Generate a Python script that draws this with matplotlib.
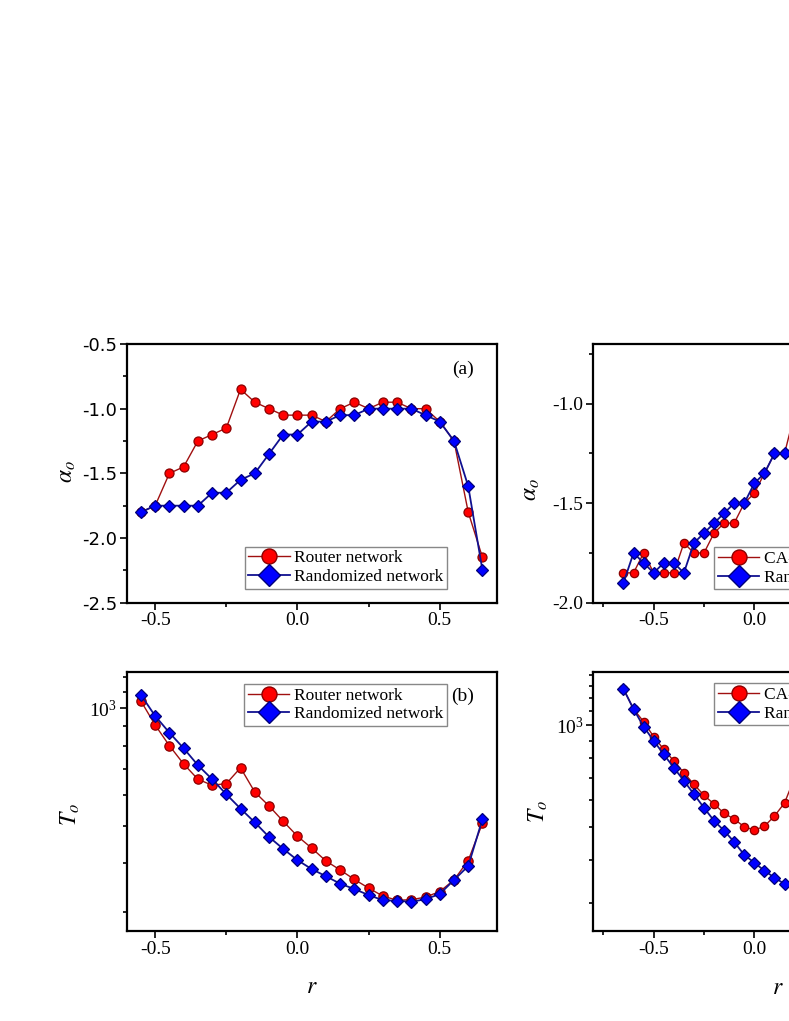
import numpy as np
import matplotlib
matplotlib.use("Agg")
import matplotlib.pyplot as plt
from matplotlib.lines import Line2D
from matplotlib.ticker import MultipleLocator, LogLocator, NullFormatter

plt.rcParams['font.family'] = ['Liberation Serif', 'DejaVu Serif']
plt.rcParams['mathtext.fontset'] = 'stix'

# ---------------- data ----------------
r_router = [-0.55, -0.50, -0.45, -0.40, -0.35, -0.30, -0.25, -0.20, -0.15, -0.10, -0.05, 0.00,
            0.05, 0.10, 0.15, 0.20, 0.25, 0.30, 0.35, 0.40, 0.45, 0.50, 0.55, 0.60, 0.65]
alpha_router = [-1.80, -1.75, -1.50, -1.45, -1.25, -1.20, -1.15, -0.85, -0.95, -1.00, -1.05, -1.05,
                -1.05, -1.10, -1.00, -0.95, -1.00, -0.95, -0.95, -1.00, -1.00, -1.10, -1.25, -1.80, -2.15]
alpha_router_rand = [-1.80, -1.75, -1.75, -1.75, -1.75, -1.65, -1.65, -1.55, -1.50, -1.35, -1.20, -1.20,
                     -1.10, -1.10, -1.05, -1.05, -1.00, -1.00, -1.00, -1.00, -1.05, -1.10, -1.25, -1.60, -2.25]
T_router = [1044, 906, 802, 720, 658, 635, 641, 704, 610, 562, 513, 470,
            438, 406, 385, 364, 346, 330, 322, 323, 328, 339, 363, 407, 508]
T_router_rand = [1082, 956, 866, 790, 715, 658, 602, 553, 510, 468, 436, 408,
                 387, 371, 355, 344, 332, 322, 321, 319, 324, 334, 363, 394, 520]

r_ca = [-0.65, -0.60, -0.55, -0.50, -0.45, -0.40, -0.35, -0.30, -0.25, -0.20, -0.15, -0.10,
        -0.05, 0.00, 0.05, 0.10, 0.15, 0.20]
alpha_ca = [-1.85, -1.85, -1.75, -1.85, -1.85, -1.85, -1.70, -1.75, -1.75, -1.65, -1.60, -1.60,
            -1.50, -1.45, -1.35, -1.25, -1.25, -1.05]
r_ca_rand = [-0.65, -0.60, -0.55, -0.50, -0.45, -0.40, -0.35, -0.30, -0.25, -0.20, -0.15, -0.10,
             -0.05, 0.00, 0.05, 0.10, 0.15]
alpha_ca_rand = [-1.90, -1.75, -1.80, -1.85, -1.80, -1.80, -1.85, -1.70, -1.65, -1.60, -1.55, -1.50,
                 -1.50, -1.40, -1.35, -1.25, -1.25]
T_ca = [1276, 1114, 1023, 924, 848, 784, 724, 669, 621, 586, 550, 529,
        502, 491, 504, 540, 590, 700]
T_ca_rand = [1276, 1114, 989, 899, 820, 749, 686, 626, 571, 523, 489, 453,
             415, 394, 373, 356, 341]

labels_router = ["Router network", "Randomized network"]
labels_ca = ["CA-GrQc network", "Randomized network"]

# ---------------- style ----------------
RED_FILL, RED_EDGE, RED_LINE = '#FF0000', '#8B0000', '#A01010'
BLU_FILL, BLU_EDGE, BLU_LINE = '#0000FF', '#00007A', '#101090'

W, H = 789, 1021
fig = plt.figure(figsize=(W / 100, H / 100), dpi=100)


def rect(x0, ytop, w, h):
    return [x0 / W, (H - ytop - h) / H, w / W, h / H]


ax_a = fig.add_axes(rect(126.7, 344, 370, 258.7))
ax_b = fig.add_axes(rect(126.7, 672.3, 370, 258.7))
ax_c = fig.add_axes(rect(593.3, 344, 370.4, 258.7))
ax_d = fig.add_axes(rect(593.3, 672.3, 370.4, 258.7))


def style(ax):
    for s in ax.spines.values():
        s.set_linewidth(1.6)
    ax.tick_params(which='both', direction='out', top=False, right=False, width=1.2,
                   labelsize=14, pad=2)
    ax.tick_params(which='major', length=5)
    ax.tick_params(which='minor', length=3)


def draw(ax, x1, y1, x2, y2, ms_o, ms_d):
    ax.plot(x1, y1, '-', color=RED_LINE, lw=1.0, marker='o', ms=ms_o,
            mfc=RED_FILL, mec=RED_EDGE, mew=0.9, zorder=3)
    ax.plot(x2, y2, '-', color=BLU_LINE, lw=1.3, marker='D', ms=ms_d,
            mfc=BLU_FILL, mec=BLU_EDGE, mew=0.9, zorder=4)


def legend(ax, labels, anchor):
    h = [Line2D([], [], color=RED_LINE, lw=1.0, marker='o', ms=10.8, mfc=RED_FILL,
                mec=RED_EDGE, mew=1.0),
         Line2D([], [], color=BLU_LINE, lw=1.3, marker='D', ms=11.0, mfc=BLU_FILL,
                mec=BLU_EDGE, mew=1.0)]
    lg = ax.legend(h, labels, loc='upper left', bbox_to_anchor=anchor, borderaxespad=0,
                   fontsize=12.5, frameon=True, fancybox=False, edgecolor='#888888',
                   framealpha=1, handlelength=2.4, handletextpad=0.25, borderpad=0.2,
                   labelspacing=0.15)
    lg.get_frame().set_linewidth(1.0)
    lg.set_zorder(10)


# (a)
draw(ax_a, r_router, alpha_router, r_router, alpha_router_rand, 6.5, 6.5)
ax_a.set_xlim(-0.6, 0.7)
ax_a.set_ylim(-2.5, -0.5)
ax_a.xaxis.set_major_locator(MultipleLocator(0.5))
ax_a.xaxis.set_minor_locator(MultipleLocator(0.25))
ax_a.yaxis.set_major_locator(MultipleLocator(0.5))
ax_a.yaxis.set_minor_locator(MultipleLocator(0.25))
style(ax_a)
ax_a.yaxis.set_major_formatter(plt.FuncFormatter(lambda v, p: f"{v:.1f}"))
for t in ax_a.get_yticklabels():
    t.set_fontfamily('DejaVu Sans')
    t.set_fontsize(13)
legend(ax_a, labels_router, (0.3197, 0.2165))
ax_a.text(463.3 / W, 1 - 369.3 / H, "(a)", transform=fig.transFigure, fontsize=14,
          ha='center', va='center')

# (b)
draw(ax_b, r_router, T_router, r_router, T_router_rand, 6.7, 6.5)
ax_b.set_yscale('log')
ax_b.set_xlim(-0.6, 0.7)
ax_b.set_ylim(268.5, 1237)
ax_b.xaxis.set_major_locator(MultipleLocator(0.5))
ax_b.xaxis.set_minor_locator(MultipleLocator(0.25))
ax_b.yaxis.set_major_locator(LogLocator(base=10, numticks=10))
ax_b.yaxis.set_minor_locator(MultipleLocator(100))
ax_b.yaxis.set_minor_formatter(NullFormatter())
style(ax_b)
legend(ax_b, labels_router, (0.318, 0.9548))
ax_b.text(463 / W, 1 - 696.7 / H, "(b)", transform=fig.transFigure, fontsize=14,
          ha='center', va='center')

# (c)
draw(ax_c, r_ca, alpha_ca, r_ca_rand, alpha_ca_rand, 6.0, 6.2)
ax_c.set_xlim(-0.8, 1.04)
ax_c.set_ylim(-2.0, -0.7)
ax_c.xaxis.set_major_locator(MultipleLocator(0.5))
ax_c.xaxis.set_minor_locator(MultipleLocator(0.25))
ax_c.yaxis.set_major_locator(MultipleLocator(0.5))
ax_c.yaxis.set_minor_locator(MultipleLocator(0.25))
ax_c.yaxis.set_major_formatter(plt.FuncFormatter(lambda v, p: f"{v:.1f}"))
style(ax_c)
legend(ax_c, labels_ca, (0.3267, 0.2141))

# (d)
draw(ax_d, r_ca, T_ca, r_ca_rand, T_ca_rand, 6.0, 6.0)
ax_d.set_yscale('log')
ax_d.set_xlim(-0.8, 1.04)
ax_d.set_ylim(248, 1429)
ax_d.xaxis.set_major_locator(MultipleLocator(0.5))
ax_d.xaxis.set_minor_locator(MultipleLocator(0.25))
ax_d.yaxis.set_major_locator(LogLocator(base=10, numticks=10))
ax_d.yaxis.set_minor_locator(MultipleLocator(100))
ax_d.yaxis.set_minor_formatter(NullFormatter())
style(ax_d)
legend(ax_d, labels_ca, (0.3267, 0.9575))

for ax in (ax_a, ax_b, ax_c, ax_d):
    ax.xaxis.set_major_formatter(plt.FuncFormatter(lambda v, p: f"{v:.1f}"))

# axis labels (figure coordinates)
fig.text(67 / W, 1 - 472 / H, r'$\alpha_o$', rotation=90, fontsize=17, ha='center', va='center')
fig.text(532 / W, 1 - 490 / H, r'$\alpha_o$', rotation=90, fontsize=17, ha='center', va='center')
fig.text(70 / W, 1 - 815 / H, r'$T_o$', rotation=90, fontsize=17, ha='center', va='center')
fig.text(538 / W, 1 - 812 / H, r'$T_o$', rotation=90, fontsize=17, ha='center', va='center')
fig.text(312 / W, 1 - 987 / H, r'$r$', fontsize=17, ha='center', va='center')
fig.text(778 / W, 1 - 988 / H, r'$r$', fontsize=17, ha='center', va='center')

fig.savefig('out.png', dpi=100)
